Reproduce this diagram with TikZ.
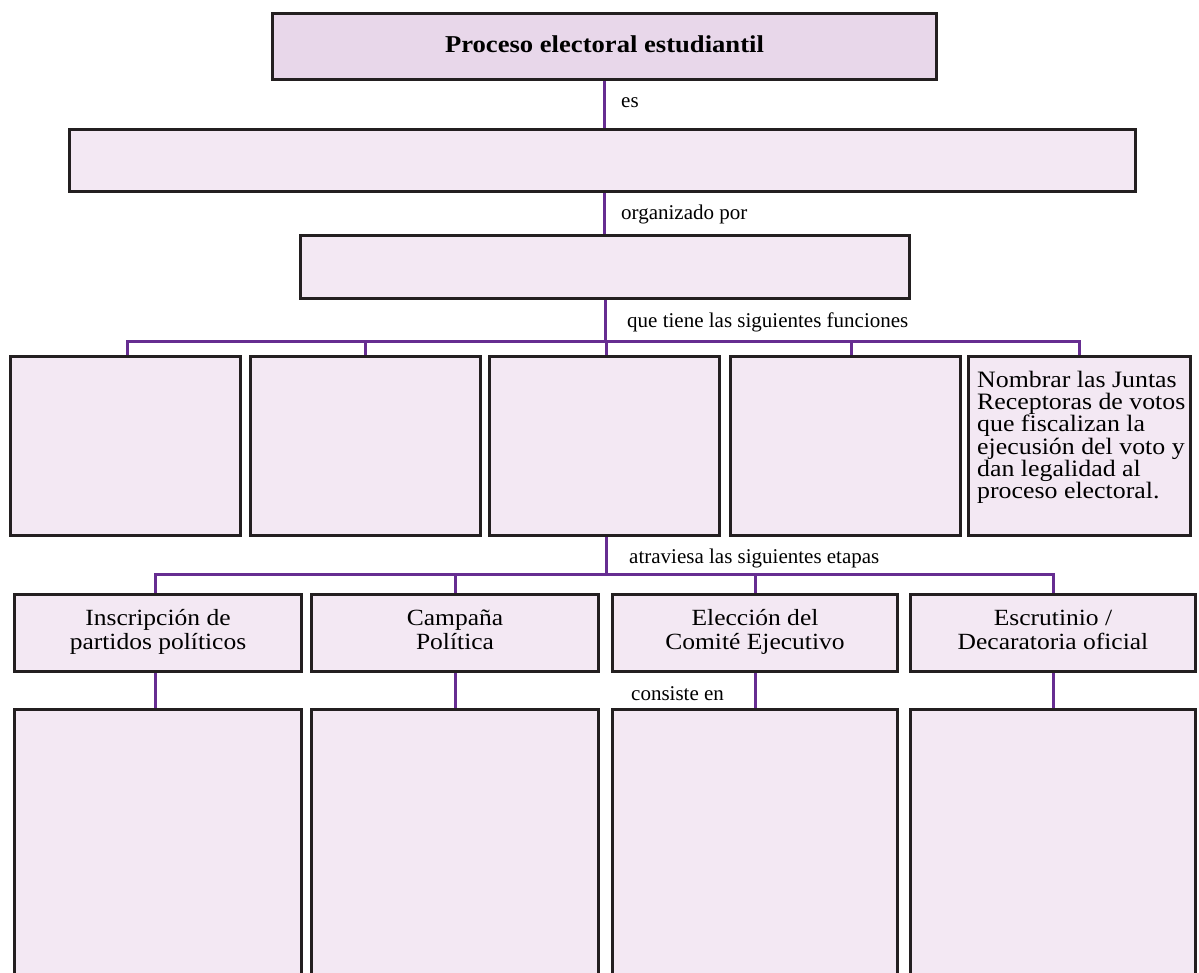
\documentclass[tikz,border=0pt]{standalone}
\usepackage{fontspec}
\setmainfont{Liberation Serif}
\newfontfamily\bxf[FakeStretch=1.1]{Liberation Serif}
\usetikzlibrary{backgrounds,calc}
\definecolor{conncol}{RGB}{102,45,145}
\definecolor{bordcol}{RGB}{35,31,32}
\definecolor{fillA}{RGB}{243,232,243}
\definecolor{fillT}{RGB}{232,215,234}
\tikzset{
  box/.style={draw=bordcol, line width=3pt, fill=fillA, inner sep=0pt,
    align=center, font=\bxf\fontsize{23.2}{23}\selectfont},
  titlebox/.style={box, fill=fillT},
  cn/.style={draw=conncol, line width=3pt},
  lbl/.style={anchor=base west, inner sep=0pt, font=\fontsize{21}{25}\selectfont},
}
\begin{document}
\begin{tikzpicture}[x=1pt,y=-1pt]
\clip (0,0) rectangle (1199,972);
% top chain
\node[titlebox, minimum width=664pt, minimum height=66pt] (title) at (604.5,46.5)
  {\raisebox{4pt}{\bxf\bfseries\fontsize{24.2}{29}\selectfont Proceso electoral estudiantil}};
\node[box, minimum width=1066pt, minimum height=62pt] (box2) at (602.5,160.5) {};
\node[box, minimum width=609pt, minimum height=63pt] (box3) at (605,267) {};
% functions row
\node[box, minimum width=230pt, minimum height=179pt] (fa) at (125.5,446) {};
\node[box, minimum width=230pt, minimum height=179pt] (fb) at (365.5,446) {};
\node[box, minimum width=230pt, minimum height=179pt] (fc) at (604.5,446) {};
\node[box, minimum width=230pt, minimum height=179pt] (fd) at (845.5,446) {};
\node[box, minimum width=222pt, minimum height=179pt] (fe) at (1079.5,446) {};
\node[anchor=north west, inner sep=0pt, align=left,
  font=\bxf\fontsize{23.5}{22.2}\selectfont] (fetext) at (977,371)
  {Nombrar las Juntas\\Receptoras de votos\\que fiscalizan la\\ejecusión del voto y\\dan legalidad al\\proceso electoral.};
% stages
\node[box, minimum width=287pt, minimum height=77pt] (sa) at (158,633) {\strut Inscripción de\\\strut partidos políticos};
\node[box, minimum width=287pt, minimum height=77pt] (sb) at (455,633) {\strut Campaña\\\strut Política};
\node[box, minimum width=285pt, minimum height=77pt] (sc) at (755,633) {\strut Elección del\\\strut Comité Ejecutivo};
\node[box, minimum width=285pt, minimum height=77pt] (sd) at (1053,633) {\strut Escrutinio /\\\strut Decaratoria oficial};
% bottom boxes
\node[box, minimum width=287pt, minimum height=300pt] (ba) at (158,859.5) {};
\node[box, minimum width=287pt, minimum height=300pt] (bb) at (455,859.5) {};
\node[box, minimum width=285pt, minimum height=300pt] (bc) at (755,859.5) {};
\node[box, minimum width=285pt, minimum height=300pt] (bd) at (1053,859.5) {};
% labels
\node[lbl] (les) at (621,107) {es};
\node[lbl] (lorg) at (621,219) {organizado por};
\node[lbl] (lfun) at (627,327) {que tiene las siguientes funciones};
\node[lbl] (leta) at (629,563) {atraviesa las siguientes etapas};
\node[lbl] (lcon) at (631,700) {consiste en};
% connectors
\coordinate (r1) at (0,341);
\coordinate (r2) at (0,574);
\coordinate (j1) at (box3.south |- r1);
\coordinate (j2) at (fc.south |- r2);
\begin{pgfonlayer}{background}
\draw[cn] (title.south) -- (title.south |- box2.north);
\draw[cn] (title.south |- box2.south) -- (title.south |- box3.north);
\draw[cn] (box3.south) -- (j1);
\draw[cn] ([xshift=1.5pt]fa.north) |- (j1);
\draw[cn] (fb.north) |- (j1);
\draw[cn] ([xshift=1.5pt]fc.north) |- (j1);
\draw[cn] ([xshift=5.5pt]fd.north) |- (j1);
\draw[cn] (fe.north) |- (j1);
\draw[cn] ([xshift=1.5pt]fc.south) -- ([xshift=1.5pt]j2);
\draw[cn] ([xshift=-3pt]sa.north) |- (j2);
\draw[cn] (sb.north) |- (j2);
\draw[cn] (sc.north) |- (j2);
\draw[cn] (sd.north) |- (j2);
\draw[cn] ([xshift=-3pt]sa.south) -- ([xshift=-3pt]ba.north);
\draw[cn] (sb.south) -- (bb.north);
\draw[cn] (sc.south) -- (bc.north);
\draw[cn] (sd.south) -- (bd.north);
\end{pgfonlayer}
\end{tikzpicture}
\end{document}
